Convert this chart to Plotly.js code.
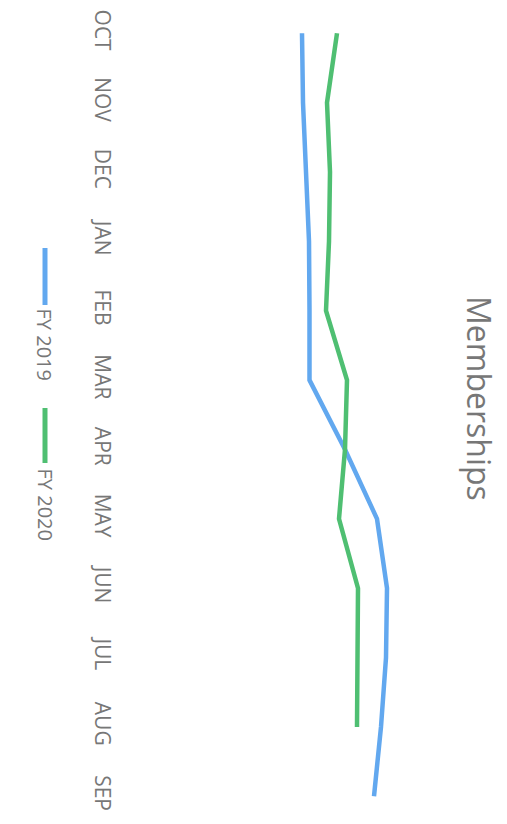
<!DOCTYPE html>
<html>
<head>
<meta charset="utf-8">
<script src="https://cdn.plot.ly/plotly-3.0.1.min.js"></script>
<style>html,body{margin:0;padding:0;background:#fff;}#chart{width:507px;height:824px;}</style>
</head>
<body>
<div id="chart"></div>
<script>
// Data (rotated chart: months run top to bottom, memberships grow to the right)
const months = ["OCT","NOV","DEC","JAN","FEB","MAR","APR","MAY","JUN","JUL","AUG","SEP"];
const seriesNames = ["FY 2019","FY 2020"];
const fy2019 = [177,178,181,184,184.5,184.5,220,252,262,261,256,249];
const fy2020 = [212,202,205,204,201,222,220,214,233,232,232,null];
const colors = ["#62a8ef","#4fbf72"];

const W = 507, H = 824, L = 125;
const px = v => (v - L) / (W - L);      // page px -> paper x
const py = v => 1 - v / H;              // page px -> paper y

const traces = [fy2019, fy2020].map((vals, i) => ({
  type: "scatter", mode: "lines", name: seriesNames[i],
  y: months, x: vals,
  line: {color: colors[i], width: 4.5}, connectgaps: false,
  showlegend: false, hoverinfo: "skip"
}));

const legendY = [[248,305,344],[408,463,504]];
const shapes = legendY.map((p, i) => ({
  type: "line", xref: "paper", yref: "paper",
  x0: px(45), x1: px(45), y0: py(p[0]), y1: py(p[1]),
  line: {color: colors[i], width: 5}
}));
const annotations = [
  {text: "Memberships", xref: "paper", yref: "paper", x: px(480), y: py(398),
   showarrow: false, textangle: 90, xanchor: "center", yanchor: "middle",
   font: {family: "Open Sans, sans-serif", size: 32, color: "#777"}}
].concat(legendY.map((p, i) => ({
  text: seriesNames[i], xref: "paper", yref: "paper", x: px(44.5), y: py(p[2]),
  showarrow: false, textangle: 90, xanchor: "center", yanchor: "middle",
  font: {family: "Open Sans, sans-serif", size: 20, color: "#777"}
})));

const layout = {
  width: W, height: H,
  margin: {l: L, r: 0, t: 0, b: 0},
  paper_bgcolor: "#fff", plot_bgcolor: "#fff",
  showlegend: false,
  xaxis: {range: [0, W - L], visible: false, fixedrange: true},
  yaxis: {type: "category", range: [11.4, -0.48], tickangle: 90,
          showgrid: false, zeroline: false, showline: false, ticks: "",
          ticklabelstandoff: 8,
          tickfont: {family: "Open Sans, sans-serif", size: 21, color: "#777"},
          fixedrange: true},
  shapes: shapes,
  annotations: annotations
};
Plotly.newPlot("chart", traces, layout, {staticPlot: true, displayModeBar: false});
</script>
</body>
</html>
